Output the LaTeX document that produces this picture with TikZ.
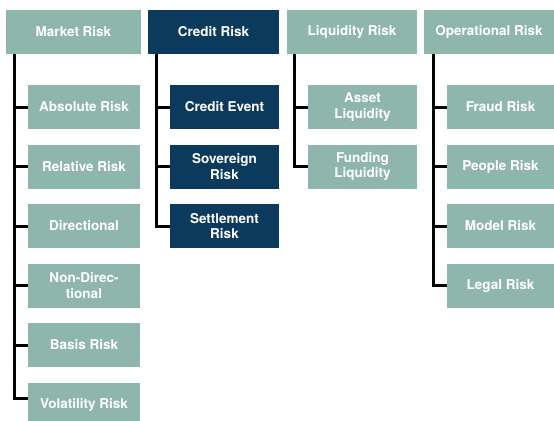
\documentclass[tikz,border=0pt]{standalone}
\usepackage{fontspec}
\setmainfont{TeX Gyre Heros}
\definecolor{sage}{RGB}{143,182,172}
\definecolor{navy}{RGB}{12,58,92}
\tikzset{
  box/.style={fill=#1,text=white,font=\fontsize{13.5bp}{15.7bp}\selectfont\bfseries,align=center,inner sep=0pt,minimum height=44bp},
  spine/.style={line width=3bp,black,line join=miter}
}
\begin{document}
\begin{tikzpicture}[x=1bp,y=-1bp]
                \useasboundingbox (0,0) rectangle (554,420);
                \node[box=sage,minimum width=135bp] (mkt) at (73.5,32) {Market Risk};
                \node[box=navy,minimum width=131bp] (crd) at (213.5,32) {Credit Risk};
                \node[box=sage,minimum width=130bp] (liq) at (352,32) {Liquidity Risk};
                \node[box=sage,minimum width=130bp] (ops) at (489,32) {Operational Risk};
                \foreach \txt [count=\i] in {Absolute Risk,Relative Risk,Directional,{Non-Direc-\\tional},Basis Risk,Volatility Risk}
                    \node[box=sage,minimum width=112bp] (mkt\i) at (84,{107+59.5*(\i-1)}) {\txt};
                \foreach \txt [count=\i] in {Credit Event,{Sovereign\\Risk},{Settlement\\Risk}}
                    \node[box=navy,minimum width=109bp] (crd\i) at (224.5,{107+59.5*(\i-1)}) {\txt};
                \foreach \txt [count=\i] in {{Asset\\Liquidity},{Funding\\Liquidity}}
                    \node[box=sage,minimum width=109bp] (liq\i) at (362.5,{107+59.5*(\i-1)}) {\txt};
                \foreach \txt [count=\i] in {Fraud Risk,People Risk,Model Risk,Legal Risk}
                    \node[box=sage,minimum width=107bp] (ops\i) at (500.5,{107+59.5*(\i-1)}) {\txt};
                \foreach \i in {1,...,5}
                    \draw[spine] ([xshift=9bp]mkt.south west) |- (mkt\i.west);
                \draw[spine] ([xshift=9bp]mkt.south west) |- ([yshift=6bp]mkt6.west);
                \foreach \i in {1,2,3}
                    \draw[spine] ([xshift=9bp]crd.south west) |- (crd\i.west);
                \foreach \i in {1,2}
                    \draw[spine] ([xshift=8bp]liq.south west) |- (liq\i.west);
                \foreach \i in {1,...,4}
                    \draw[spine] ([xshift=10bp]ops.south west) |- (ops\i.west);
            \end{tikzpicture}
\end{document}
